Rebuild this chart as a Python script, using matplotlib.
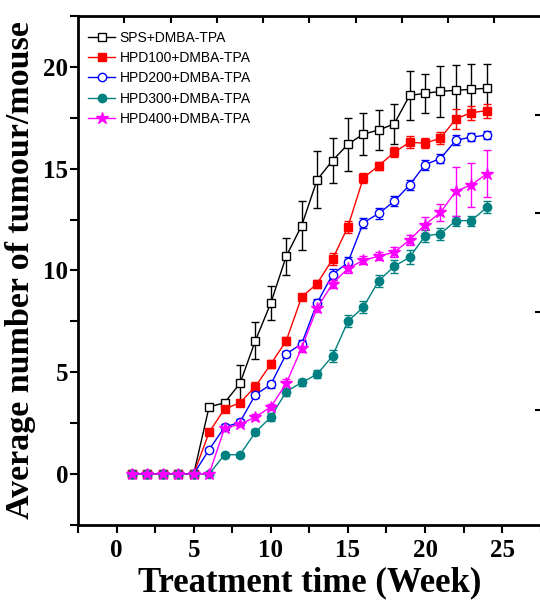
import matplotlib
matplotlib.use('Agg')
import matplotlib.pyplot as plt

# data
weeks = list(range(1, 25))

sps = [0, 0, 0, 0, 0, 3.3, 3.5, 4.45, 6.55, 8.4, 10.7, 12.2, 14.45, 15.4, 16.2, 16.7,
       16.9, 17.2, 18.6, 18.7, 18.8, 18.85, 18.9, 18.95]
sps_err = [0, 0, 0, 0, 0, 0.15, 0.15, 0.9, 0.9, 0.85, 0.9, 1.2, 1.4, 1.1, 1.3, 1.05,
           1.0, 1.0, 1.2, 0.95, 1.25, 1.25, 1.25, 1.2]

hpd100 = [0, 0, 0, 0, 0, 2.05, 3.2, 3.5, 4.3, 5.4, 6.55, 8.7, 9.35, 10.55, 12.15, 14.55,
          15.15, 15.8, 16.3, 16.25, 16.5, 17.45, 17.75, 17.85]
hpd100_err = [0, 0, 0, 0, 0, 0.1, 0.15, 0.15, 0.2, 0.2, 0.2, 0.15, 0.2, 0.3, 0.3, 0.25,
              0.2, 0.25, 0.3, 0.25, 0.3, 0.5, 0.35, 0.35]

hpd200 = [0, 0, 0, 0, 0, 1.2, 2.3, 2.55, 3.9, 4.4, 5.9, 6.4, 8.4, 9.8, 10.4, 12.35,
          12.8, 13.4, 14.2, 15.2, 15.5, 16.4, 16.55, 16.65]
hpd200_err = [0, 0, 0, 0, 0, 0.1, 0.15, 0.15, 0.15, 0.15, 0.15, 0.2, 0.2, 0.25, 0.25, 0.25,
              0.25, 0.25, 0.25, 0.25, 0.2, 0.25, 0.2, 0.2]

hpd300 = [0, 0, 0, 0, 0, 0, 0.95, 0.95, 2.05, 2.8, 4.05, 4.5, 4.9, 5.8, 7.5, 8.2,
          9.5, 10.2, 10.65, 11.7, 11.8, 12.45, 12.45, 13.1]
hpd300_err = [0, 0, 0, 0, 0, 0, 0.1, 0.1, 0.15, 0.2, 0.2, 0.15, 0.2, 0.3, 0.3, 0.3,
              0.3, 0.3, 0.35, 0.3, 0.3, 0.25, 0.25, 0.3]

hpd400 = [0, 0, 0, 0, 0, 0, 2.25, 2.45, 2.8, 3.3, 4.45, 6.2, 8.15, 9.35, 10.1, 10.5,
          10.7, 10.9, 11.5, 12.25, 12.85, 13.9, 14.2, 14.75]
hpd400_err = [0, 0, 0, 0, 0, 0, 0.1, 0.1, 0.15, 0.15, 0.2, 0.2, 0.2, 0.2, 0.2, 0.2,
              0.2, 0.25, 0.25, 0.4, 0.4, 1.2, 1.1, 1.15]

x_ticks = [0, 5, 10, 15, 20, 25]
y_ticks = [0, 5, 10, 15, 20]
top_ticks = [0.5, 3.5, 6.5, 9.5, 12.5, 15.5, 18.5, 21.5, 24.5]
right_ticks = [3.15, 7.95, 12.8, 17.65]

fig = plt.figure(figsize=(5.4, 6.13), dpi=100)
ax = fig.add_axes([0.1444, 0.1436, 0.857, 0.8303])

series = [
    (sps, sps_err, 'SPS+DMBA-TPA', 'black', 's', 'white', 5.5),
    (hpd100, hpd100_err, 'HPD100+DMBA-TPA', '#ff0000', 's', '#ff0000', 5.5),
    (hpd200, hpd200_err, 'HPD200+DMBA-TPA', '#0000ff', 'o', 'white', 6),
    (hpd300, hpd300_err, 'HPD300+DMBA-TPA', '#008080', 'o', '#008080', 6),
    (hpd400, hpd400_err, 'HPD400+DMBA-TPA', '#ff00ff', '*', '#ff00ff', 9),
]

handles = []
for vals, errs, lab, col, mk, fc, ms in series:
    c = ax.errorbar(weeks, vals, yerr=errs, color=col, marker=mk, markerfacecolor=fc,
                    markeredgecolor=col, markersize=ms, linewidth=1, elinewidth=1,
                    capsize=3, capthick=1, label=lab)
    handles.append(c.lines[0])

ax.set_xlim(-2.44, 27.24)
ax.set_ylim(-2.45, 22.45)
ax.set_xticks(x_ticks)
ax.set_yticks(y_ticks)
ax.set_xticks([v + 2.5 for v in [-5] + x_ticks], minor=True)
ax.set_yticks([v + 2.5 for v in [-5] + y_ticks], minor=True)
ax.tick_params(which='both', direction='out', length=6, width=1.5)
ax.tick_params(axis='x', pad=4)
ax.tick_params(axis='y', pad=1)
for lbl in ax.get_xticklabels() + ax.get_yticklabels():
    lbl.set_fontfamily('Liberation Serif')
    lbl.set_fontweight('bold')
    lbl.set_fontsize(18)

for sp in ax.spines.values():
    sp.set_linewidth(2)

top = ax.secondary_xaxis('top')
top.set_xticks(top_ticks)
top.set_xticklabels([])
top.tick_params(direction='in', length=5, width=1.5)
right = ax.secondary_yaxis('right')
right.set_yticks(right_ticks)
right.set_yticklabels([])
right.tick_params(direction='in', length=4, width=1.5)

ax.set_xlabel('Treatment time (Week)', fontfamily='Liberation Serif',
              fontweight='bold', fontsize=25, labelpad=3)
ax.set_ylabel('Average number of tumour/mouse', fontfamily='Liberation Serif',
              fontweight='bold', fontsize=24.5, labelpad=5)

leg = ax.legend(handles, [s[2] for s in series], loc='upper left',
                bbox_to_anchor=(0.0, 0.99), frameon=False,
                prop={'family': 'Liberation Sans', 'size': 10},
                handlelength=2.0, handletextpad=0.3, labelspacing=0.45,
                borderaxespad=0.3)

fig.savefig('out.png', dpi=100)
